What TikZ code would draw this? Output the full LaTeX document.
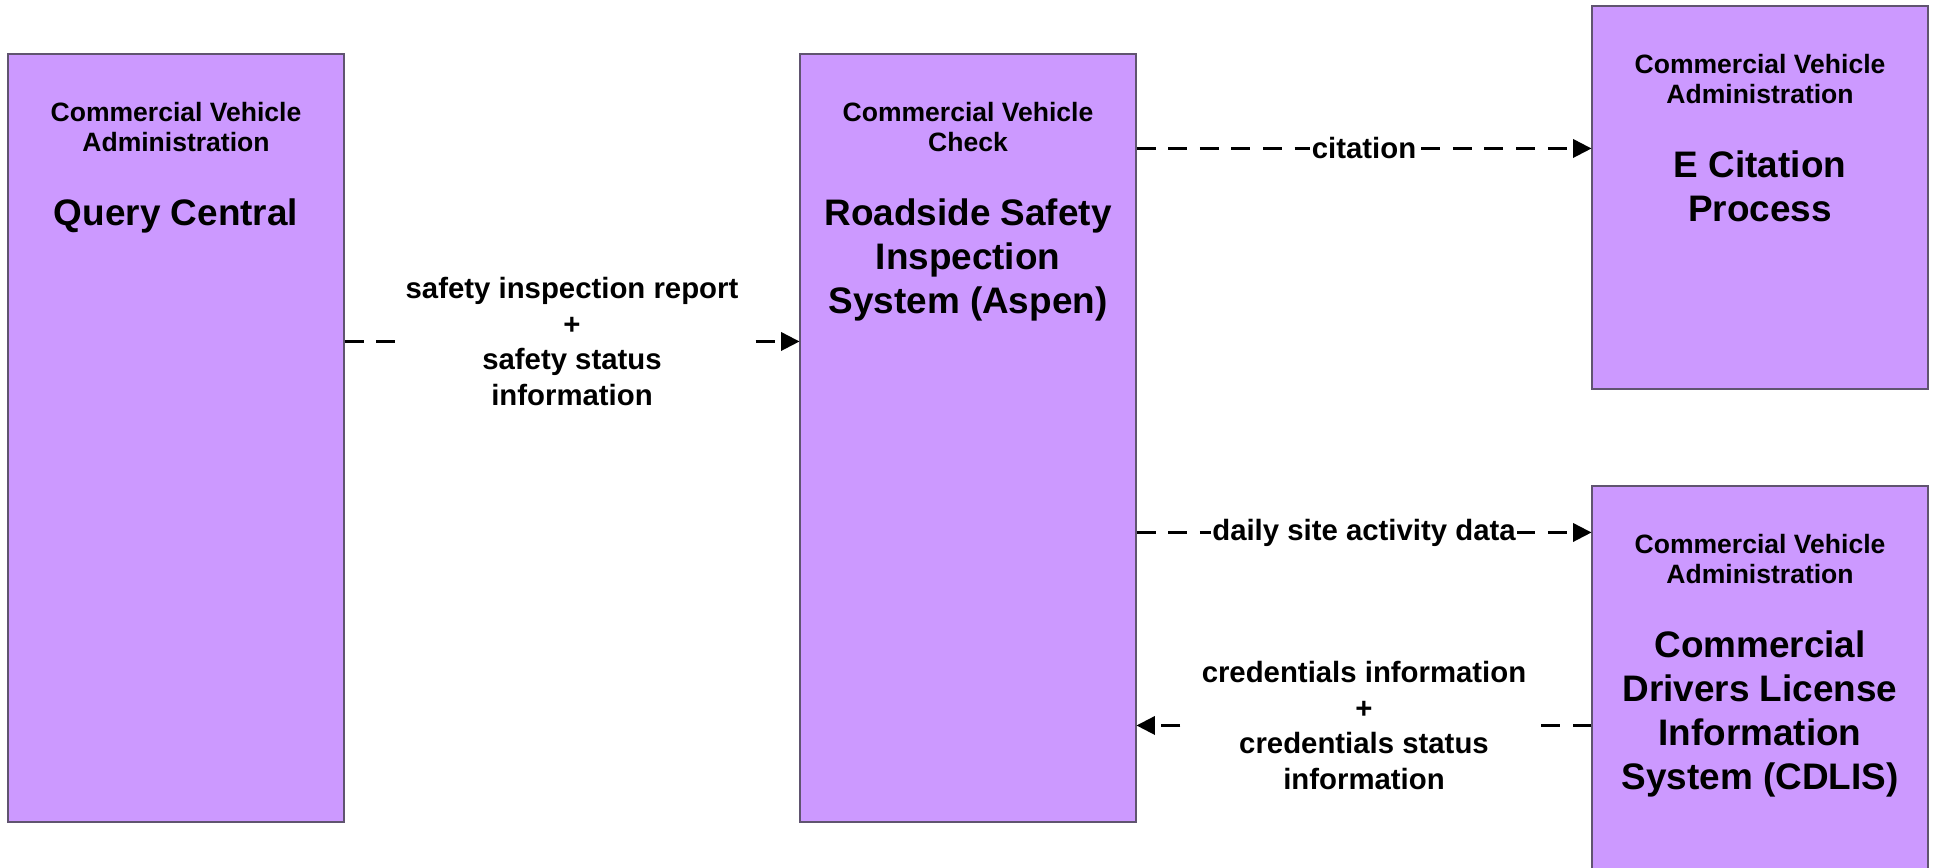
\documentclass[tikz,border=0pt]{standalone}
\usepackage{fontspec}
\setmainfont{Liberation Sans}
\usepackage{tikz}
\usetikzlibrary{arrows.meta,positioning,calc}
\definecolor{cvpurple}{RGB}{204,153,255}
\definecolor{cvborder}{RGB}{96,84,112}
\tikzstyle{system} = [rectangle, draw=cvborder, fill=cvpurple, line width=0.6pt, minimum width=6.72cm]
\tikzstyle{orgname} = [inner sep=0pt, align=center, font=\fontsize{15.1}{17.4}\selectfont\bfseries]
\tikzstyle{sysname} = [inner sep=0pt, align=center, font=\fontsize{21}{24.9}\selectfont\bfseries]
\tikzstyle{flow} = [line width=1.3pt, dash pattern=on 10.8pt off 7.2pt, -{Triangle[length=10.5pt,width=10.5pt]}]
\tikzstyle{flowlabel} = [fill=white, align=center, font=\fontsize{16.7}{20.2}\selectfont\bfseries]

\begin{document}
\begin{tikzpicture}
\useasboundingbox (0,0) rectangle (38.74,-17.36);
% Systems
\node[system, minimum height=15.36cm] (qc) at (3.52,-8.76) {};
\node[system, minimum height=15.36cm] (rss) at (19.36,-8.76) {};
\node[system, minimum height=7.66cm] (ec) at (35.2,-3.95) {};
\node[system, minimum height=7.66cm] (cdlis) at (35.2,-13.55) {};

% Titles
\node[orgname, below=0.96cm of qc.north] (qcorg) {Commercial Vehicle\\Administration};
\node[sysname, below=0.93cm of qcorg] (qcname) {Query Central};
\node[orgname, below=0.96cm of rss.north] (rssorg) {Commercial Vehicle\\Check};
\node[sysname, below=0.93cm of rssorg] (rssname) {Roadside Safety\\Inspection\\System (Aspen)};
\node[orgname, below=0.96cm of ec.north] (ecorg) {Commercial Vehicle\\Administration};
\node[sysname, below=0.93cm of ecorg] (ecname) {E Citation\\Process};
\node[orgname, below=0.96cm of cdlis.north] (cdlisorg) {Commercial Vehicle\\Administration};
\node[sysname, below=0.93cm of cdlisorg] (cdlisname) {Commercial\\Drivers License\\Information\\System (CDLIS)};

% Flows
\coordinate (f1) at ([yshift=-5.76cm]qc.north east);
\draw[flow] (f1) -- (f1 -| rss.west) node[midway, flowlabel, inner sep=6pt] {safety inspection report\\+\\safety status\\information};
\coordinate (f2) at ([yshift=-1.9cm]rss.north east);
\draw[flow] (f2) -- (f2 -| ec.west) node[midway, flowlabel, inner sep=1pt] {citation};
\coordinate (f3) at ([yshift=-9.58cm]rss.north east);
\draw[flow] (f3) -- (f3 -| cdlis.west) node[midway, flowlabel, inner sep=1pt] {daily site activity data};
\coordinate (f4) at ([yshift=-13.44cm]rss.north east);
\draw[flow] (f4 -| cdlis.west) -- (f4) node[midway, flowlabel, inner sep=6pt] {credentials information\\+\\credentials status\\information};
\end{tikzpicture}
\end{document}
